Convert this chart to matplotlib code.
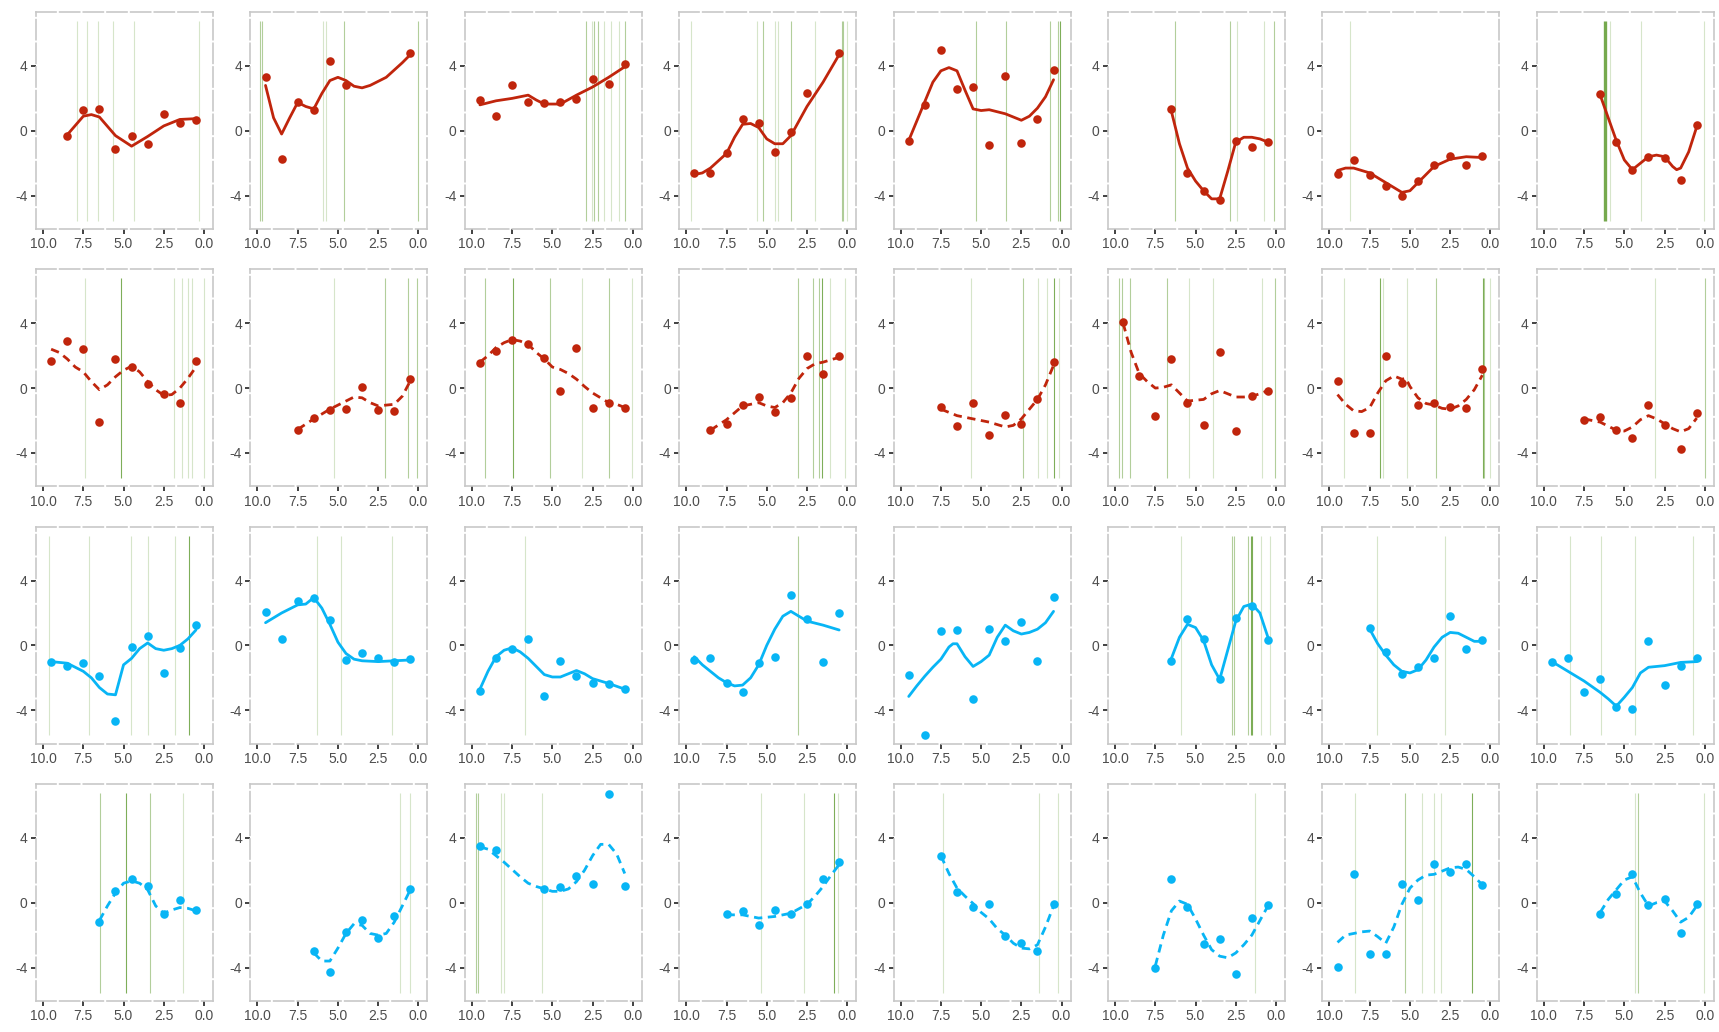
import matplotlib
matplotlib.use("Agg")
import matplotlib.pyplot as plt
from matplotlib.ticker import FormatStrFormatter

plt.rcParams['font.family'] = ['Liberation Sans', 'DejaVu Sans']
plt.rcParams['axes.unicode_minus'] = False

FULL = [9.5, 8.5, 7.5, 6.5, 5.5, 4.5, 3.5, 2.5, 1.5, 0.5]

# points per panel (row by row, 8 per row)
pts_x = [
    FULL[1:], [9.5, 8.5, 7.5, 6.5, 5.5, 4.5, 0.5], FULL, [9.5, 8.5, 7.5, 6.5, 5.5, 4.5, 3.5, 2.5, 0.5],
    FULL, FULL[3:], FULL, FULL[3:],
    FULL, FULL[2:], FULL, FULL[1:], FULL[2:], FULL, FULL, FULL[2:],
    FULL, FULL, FULL, FULL, FULL, FULL[3:], FULL[2:], FULL,
    FULL[3:], FULL[3:], [9.5, 8.5, 5.5, 4.5, 3.5, 2.5, 1.5, 0.5], FULL[2:], FULL[2:], FULL[2:], FULL, FULL[3:],
]
pts_y = [
    [-0.3, 1.3, 1.35, -1.1, -0.35, -0.8, 1.05, 0.5, 0.65],
    [3.3, -1.75, 1.75, 1.3, 4.3, 2.8, 4.8],
    [1.9, 0.9, 2.8, 1.8, 1.7, 1.75, 1.95, 3.2, 2.9, 4.1],
    [-2.6, -2.6, -1.35, 0.75, 0.5, -1.3, -0.1, 2.35, 4.8],
    [-0.6, 1.6, 5.0, 2.6, 2.7, -0.85, 3.4, -0.75, 0.7, 3.75],
    [1.35, -2.6, -3.7, -4.25, -0.65, -1.0, -0.7],
    [-2.65, -1.8, -2.75, -3.4, -4.0, -3.1, -2.1, -1.55, -2.1, -1.55],
    [2.3, -0.7, -2.4, -1.6, -1.65, -3.05, 0.35],
    [1.7, 2.9, 2.4, -2.1, 1.8, 1.3, 0.25, -0.35, -0.95, 1.7],
    [-2.6, -1.85, -1.35, -1.3, 0.05, -1.35, -1.4, 0.55],
    [1.55, 2.3, 2.95, 2.7, 1.85, -0.15, 2.45, -1.2, -0.9, -1.25],
    [-2.6, -2.2, -1.05, -0.55, -1.5, -0.6, 1.95, 0.9, 1.95],
    [-1.15, -2.35, -0.95, -2.9, -1.65, -2.2, -0.7, 1.6],
    [4.1, 0.75, -1.75, 1.8, -0.95, -2.25, 2.2, -2.65, -0.5, -0.15],
    [0.45, -2.75, -2.75, 1.95, 0.3, -1.05, -0.95, -1.15, -1.25, 1.15],
    [-1.95, -1.8, -2.6, -3.05, -1.05, -2.25, -3.75, -1.55],
    [-1.05, -1.25, -1.1, -1.9, -4.65, -0.1, 0.55, -1.7, -0.15, 1.25],
    [2.05, 0.4, 2.75, 2.9, 1.55, -0.9, -0.5, -0.8, -1.0, -0.85],
    [-2.8, -0.75, -0.2, 0.4, -3.15, -0.95, -1.9, -2.3, -2.4, -2.7],
    [-0.9, -0.75, -2.3, -2.85, -1.1, -0.7, 3.1, 1.65, -1.05, 2.0],
    [-1.8, -5.55, 0.9, 0.95, -3.3, 1.0, 0.25, 1.45, -0.95, 3.0],
    [-0.95, 1.65, 0.4, -2.1, 1.7, 2.45, 0.35],
    [1.05, -0.4, -1.75, -1.35, -0.75, 1.8, -0.2, 0.35],
    [-1.05, -0.8, -2.9, -2.05, -3.8, -3.95, 0.3, -2.45, -1.3, -0.75],
    [-1.2, 0.7, 1.45, 1.0, -0.7, 0.15, -0.45],
    [-3.0, -4.3, -1.8, -1.05, -2.2, -0.85, 0.85],
    [3.5, 3.25, 0.85, 0.95, 1.65, 1.15, 6.7, 1.05],
    [-0.7, -0.5, -1.35, -0.45, -0.7, -0.1, 1.45, 2.5],
    [2.9, 0.65, -0.25, -0.1, -2.05, -2.5, -3.0, -0.1],
    [-4.0, 1.45, -0.25, -2.55, -2.25, -4.4, -0.95, -0.15],
    [-3.95, 1.8, -3.15, -3.15, 1.15, 0.15, 2.4, 1.9, 2.4, 1.1],
    [-0.7, 0.55, 1.75, -0.15, 0.2, -1.9, -0.05],
]

# smoothed curve readings per panel
curve_x = [
    [8.5, 7.5, 7.0, 6.5, 5.5, 4.5, 3.5, 2.5, 1.5, 0.5],
    [9.5, 9.0, 8.5, 8.0, 7.5, 7.0, 6.5, 6.0, 5.5, 5.0, 4.5, 4.0, 3.5, 3.0, 2.0, 1.0, 0.5],
    [9.5, 8.5, 7.5, 6.5, 6.0, 5.5, 4.5, 3.5, 2.5, 1.5, 0.5],
    [9.5, 9.0, 8.5, 7.5, 7.0, 6.5, 6.0, 5.5, 5.0, 4.5, 4.0, 3.5, 3.0, 2.5, 1.5, 0.5],
    [9.5, 9.0, 8.5, 8.0, 7.5, 7.0, 6.5, 6.0, 5.5, 5.0, 4.5, 3.5, 3.0, 2.5, 2.0, 1.5, 1.0, 0.5],
    [6.5, 6.0, 5.5, 5.0, 4.5, 4.0, 3.5, 3.0, 2.5, 2.0, 1.5, 1.0, 0.5],
    [9.5, 9.0, 8.5, 7.5, 6.5, 5.5, 5.0, 4.5, 3.5, 2.5, 1.5, 0.5],
    [6.5, 6.0, 5.5, 5.0, 4.5, 4.0, 3.5, 3.0, 2.5, 2.0, 1.75, 1.5, 1.0, 0.5],
    [9.5, 9.0, 8.5, 8.0, 7.5, 7.0, 6.5, 6.0, 5.5, 5.0, 4.5, 4.0, 3.5, 3.0, 2.5, 2.0, 1.5, 1.0, 0.5],
    [7.5, 6.5, 5.5, 4.5, 4.0, 3.5, 3.0, 2.5, 2.0, 1.5, 1.0, 0.5],
    [9.5, 9.0, 8.5, 8.0, 7.5, 7.0, 6.5, 6.0, 5.5, 5.0, 4.5, 4.0, 3.5, 3.0, 2.5, 2.0, 1.5, 1.0, 0.5],
    [8.5, 7.5, 6.5, 5.5, 5.0, 4.5, 4.0, 3.5, 3.0, 2.5, 2.0, 1.5, 1.0, 0.5],
    [7.5, 6.5, 5.5, 4.5, 3.5, 3.0, 2.5, 2.0, 1.5, 1.0, 0.5],
    [9.5, 9.0, 8.5, 8.0, 7.5, 7.0, 6.5, 6.0, 5.5, 5.0, 4.5, 4.0, 3.5, 3.0, 2.5, 2.0, 1.5, 1.0, 0.5],
    [9.5, 9.0, 8.5, 8.0, 7.5, 7.0, 6.5, 6.0, 5.5, 5.25, 5.0, 4.5, 4.0, 3.5, 3.0, 2.5, 2.0, 1.5, 1.0, 0.5],
    [7.5, 7.0, 6.5, 5.5, 5.0, 4.5, 4.0, 3.5, 3.0, 2.5, 2.0, 1.5, 1.0, 0.5],
    [9.5, 8.5, 7.5, 7.0, 6.5, 6.0, 5.5, 5.0, 4.5, 4.0, 3.5, 3.0, 2.5, 2.0, 1.5, 1.0, 0.5],
    [9.5, 8.5, 7.5, 7.0, 6.5, 6.0, 5.5, 5.0, 4.5, 4.0, 3.5, 2.5, 1.5, 0.5],
    [9.5, 9.0, 8.5, 8.0, 7.5, 7.0, 6.5, 6.0, 5.5, 5.0, 4.5, 4.0, 3.5, 3.0, 2.5, 1.5, 0.5],
    [9.5, 9.0, 8.5, 8.0, 7.5, 7.0, 6.5, 6.0, 5.5, 5.0, 4.5, 4.0, 3.5, 3.0, 2.5, 1.5, 0.5],
    [9.5, 9.0, 8.5, 8.0, 7.5, 7.0, 6.75, 6.5, 6.0, 5.5, 5.0, 4.5, 4.0, 3.5, 3.0, 2.5, 2.0, 1.5, 1.0, 0.5],
    [6.5, 6.0, 5.5, 5.0, 4.5, 4.0, 3.5, 3.0, 2.5, 2.0, 1.5, 1.0, 0.5],
    [7.5, 7.0, 6.5, 6.0, 5.5, 5.0, 4.5, 4.0, 3.5, 3.0, 2.5, 2.0, 1.5, 1.0, 0.5],
    [9.5, 8.5, 7.5, 6.5, 6.0, 5.5, 5.0, 4.5, 4.0, 3.5, 3.0, 2.5, 1.5, 0.5],
    [6.5, 6.0, 5.5, 5.0, 4.5, 4.0, 3.5, 3.0, 2.5, 2.0, 1.5, 1.0, 0.5],
    [6.5, 6.0, 5.5, 5.0, 4.5, 4.0, 3.5, 3.0, 2.5, 2.0, 1.5, 1.0, 0.5],
    [9.5, 9.0, 8.5, 8.0, 7.5, 7.0, 6.5, 6.0, 5.5, 5.0, 4.5, 4.0, 3.5, 3.0, 2.5, 2.0, 1.5, 1.0, 0.5],
    [7.5, 6.5, 5.5, 4.5, 3.5, 2.5, 2.0, 1.5, 1.0, 0.5],
    [7.5, 7.0, 6.5, 6.0, 5.5, 5.0, 4.5, 4.0, 3.5, 3.0, 2.5, 2.0, 1.5, 1.0, 0.5],
    [7.5, 7.0, 6.5, 6.0, 5.5, 5.0, 4.5, 4.0, 3.5, 3.0, 2.5, 2.0, 1.5, 1.0, 0.5],
    [9.5, 9.0, 8.5, 8.0, 7.5, 7.0, 6.5, 6.0, 5.5, 5.0, 4.5, 4.0, 3.5, 3.0, 2.5, 2.0, 1.5, 1.0, 0.5],
    [6.5, 6.0, 5.5, 5.0, 4.5, 4.0, 3.5, 3.0, 2.5, 2.0, 1.5, 1.0, 0.5],
]
curve_y = [
    [-0.25, 0.9, 1.0, 0.85, -0.3, -0.95, -0.35, 0.3, 0.7, 0.75],
    [2.8, 0.8, -0.2, 0.8, 1.75, 1.5, 1.35, 2.3, 3.1, 3.3, 3.1, 2.75, 2.65, 2.8, 3.3, 4.2, 4.7],
    [1.6, 1.85, 2.0, 2.2, 1.9, 1.65, 1.65, 2.2, 2.7, 3.3, 3.95],
    [-2.7, -2.6, -2.3, -1.4, -0.4, 0.4, 0.45, 0.2, -0.5, -0.8, -0.8, -0.3, 0.6, 1.5, 3.0, 4.7],
    [-0.6, 0.6, 1.8, 3.0, 3.7, 3.9, 3.7, 2.5, 1.35, 1.25, 1.3, 1.05, 0.85, 0.65, 0.9, 1.4, 2.1, 3.15],
    [1.2, -0.8, -2.3, -3.1, -3.7, -4.2, -4.2, -2.5, -0.7, -0.4, -0.4, -0.5, -0.7],
    [-2.45, -2.3, -2.3, -2.6, -3.2, -3.8, -3.7, -3.2, -2.2, -1.75, -1.6, -1.65],
    [2.2, 0.8, -0.6, -1.8, -2.4, -2.0, -1.6, -1.5, -1.6, -2.2, -2.4, -2.3, -1.3, 0.25],
    [2.4, 2.2, 1.8, 1.3, 1.0, 0.4, -0.1, 0.2, 0.7, 1.1, 1.35, 1.0, 0.4, -0.1, -0.45, -0.4, 0.0, 0.6, 1.3],
    [-2.55, -1.9, -1.3, -0.8, -0.55, -0.6, -0.9, -1.1, -1.05, -1.0, -0.5, 0.45],
    [1.6, 2.0, 2.5, 2.8, 3.0, 2.9, 2.7, 2.2, 1.8, 1.3, 1.15, 0.9, 0.55, 0.1, -0.3, -0.6, -0.9, -1.0, -1.2],
    [-2.6, -1.95, -1.1, -0.9, -1.1, -1.2, -0.9, -0.3, 0.6, 1.2, 1.5, 1.6, 1.75, 1.9],
    [-1.3, -1.7, -1.9, -2.1, -2.4, -2.3, -1.9, -1.3, -0.7, 0.2, 1.4],
    [4.0, 2.2, 0.9, 0.4, 0.0, 0.05, 0.2, -0.3, -0.8, -0.75, -0.7, -0.35, -0.15, -0.35, -0.55, -0.55, -0.5, -0.35, -0.15],
    [-0.4, -1.0, -1.4, -1.45, -1.2, -0.3, 0.45, 0.75, 0.55, 0.6, 0.1, -0.6, -0.95, -1.05, -1.25, -1.3, -1.1, -0.7, -0.1, 0.8],
    [-1.9, -2.0, -2.1, -2.6, -2.65, -2.4, -1.95, -1.7, -1.9, -2.2, -2.5, -2.7, -2.5, -1.85],
    [-1.0, -1.1, -1.6, -2.0, -2.6, -3.0, -3.05, -1.2, -0.8, -0.2, 0.15, -0.2, -0.3, -0.2, 0.0, 0.4, 0.95],
    [1.4, 2.0, 2.5, 2.55, 2.95, 2.3, 1.3, 0.2, -0.5, -0.85, -0.95, -1.0, -0.95, -0.9],
    [-2.7, -1.6, -0.7, -0.3, -0.15, -0.4, -0.8, -1.3, -1.8, -1.95, -1.95, -1.75, -1.55, -1.75, -2.05, -2.35, -2.7],
    [-0.7, -1.2, -1.6, -2.0, -2.3, -2.5, -2.45, -2.0, -1.2, 0.0, 1.0, 1.8, 2.1, 1.8, 1.5, 1.25, 0.95],
    [-3.15, -2.5, -1.9, -1.35, -0.85, -0.1, 0.1, 0.1, -0.7, -1.3, -1.0, -0.6, 0.5, 1.25, 0.9, 0.7, 0.8, 1.0, 1.4, 2.1],
    [-0.8, 0.5, 1.3, 1.1, 0.3, -1.2, -2.1, -0.3, 1.5, 2.4, 2.55, 2.0, 0.5],
    [1.0, 0.1, -0.6, -1.2, -1.6, -1.7, -1.5, -0.9, -0.1, 0.5, 0.8, 0.75, 0.5, 0.25, 0.25],
    [-1.0, -1.6, -2.2, -2.9, -3.3, -3.75, -3.2, -2.6, -1.7, -1.35, -1.3, -1.25, -1.05, -1.0],
    [-1.1, -0.2, 0.6, 1.2, 1.35, 1.2, 0.8, -0.2, -0.65, -0.45, -0.3, -0.35, -0.5],
    [-3.1, -3.6, -3.6, -2.8, -1.9, -1.3, -1.4, -1.9, -2.0, -1.9, -1.2, -0.2, 0.8],
    [3.45, 3.3, 2.9, 2.5, 2.05, 1.6, 1.2, 1.0, 0.85, 0.7, 0.7, 0.85, 1.3, 2.0, 2.9, 3.6, 3.6, 3.0, 1.8],
    [-0.75, -0.75, -0.95, -0.85, -0.65, -0.1, 0.4, 1.0, 1.7, 2.35],
    [2.9, 1.8, 0.9, 0.4, -0.05, -0.6, -1.0, -1.6, -2.0, -2.5, -2.8, -2.85, -2.6, -1.5, -0.2],
    [-3.9, -2.0, -0.5, 0.1, -0.1, -1.0, -2.0, -2.9, -3.3, -3.4, -3.1, -2.6, -2.0, -1.1, -0.2],
    [-2.45, -2.0, -1.9, -1.8, -1.75, -2.1, -2.5, -1.5, -0.1, 0.9, 1.4, 1.7, 1.75, 1.95, 2.15, 2.2, 2.05, 1.6, 1.1],
    [-0.6, 0.2, 0.8, 1.4, 1.6, 0.6, -0.2, 0.0, 0.1, -0.5, -1.2, -0.9, -0.2],
]

# vertical reference lines: position and intensity level (1 light, 2 mid, 3 dark, 4 thick)
vline_x = [
    [7.91, 7.29, 6.61, 5.64, 4.38, 0.33],
    [9.85, 9.7, 5.93, 5.76, 4.61, 0.04],
    [2.89, 2.56, 2.44, 2.19, 1.82, 1.38, 0.87, 0.5],
    [9.71, 5.6, 5.25, 4.46, 4.3, 3.51, 2.02, 0.33, 0.23, 0.04],
    [5.34, 3.44, 0.72, 0.21, 0.08],
    [6.28, 2.87, 2.4, 0.72, 0.12],
    [8.74],
    [6.2, 5.87, 3.97, 0.02],
    [7.37, 5.14, 1.85, 1.38, 0.97, 0.74, 0.0],
    [5.23, 2.08, 0.66, 0.06],
    [9.19, 7.42, 5.12, 3.15, 1.49, 0.03],
    [3.06, 2.11, 1.73, 1.56, 1.05, 0.14],
    [5.63, 2.42, 1.47, 0.92, 0.48, 0.17],
    [9.76, 9.56, 9.08, 6.78, 5.39, 3.9, 0.85, 0.07],
    [9.09, 6.83, 6.67, 5.16, 3.35, 0.49, 0.41, 0.02],
    [3.1, 0.0],
    [9.63, 7.14, 4.52, 3.47, 1.8, 0.95],
    [6.3, 4.78, 1.63],
    [6.7],
    [3.03],
    [],
    [5.9, 2.75, 2.61, 1.76, 1.56, 1.46, 0.95, 0.37],
    [7.06, 2.8],
    [8.39, 6.47, 4.32, 0.72],
    [6.46, 4.83, 3.37, 1.33],
    [1.12, 0.54],
    [9.75, 9.65, 8.16, 8.03, 5.65],
    [5.36, 2.66, 0.82, 0.55],
    [7.4, 1.42, 0.23],
    [1.28],
    [8.42, 5.29, 4.22, 3.52, 3.09, 1.17],
    [4.35, 4.14, 0.04],
]
vline_lvl = [
    [1, 1, 1, 1, 1, 1],
    [2, 2, 1, 1, 2, 2],
    [2, 1, 2, 2, 1, 1, 1, 2],
    [1, 1, 2, 1, 1, 2, 1, 2, 2, 1],
    [2, 2, 2, 2, 3],
    [2, 2, 1, 1, 2],
    [1],
    [4, 1, 1, 1],
    [1, 3, 1, 1, 1, 1, 1],
    [1, 2, 2, 2],
    [2, 3, 2, 1, 2, 1],
    [2, 2, 2, 3, 1, 1],
    [1, 2, 1, 1, 3, 1],
    [2, 2, 2, 2, 1, 1, 1, 2],
    [1, 3, 1, 1, 2, 3, 2, 1],
    [1, 2],
    [1, 1, 1, 1, 1, 3],
    [1, 1, 1],
    [1],
    [2],
    [],
    [1, 2, 2, 2, 3, 3, 1, 1],
    [1, 1],
    [1, 1, 1, 1],
    [2, 3, 2, 1],
    [1, 1],
    [2, 2, 1, 1, 1],
    [1, 1, 3, 1],
    [1, 1, 1],
    [1],
    [1, 2, 1, 1, 1, 3],
    [1, 2, 1],
]

row_color = ['#c0250c', '#c0250c', '#08b5f5', '#08b5f5']
row_dash = ['-', '--', '-', '--']
lvl_alpha = {1: 0.25, 2: 0.48, 3: 0.8, 4: 0.85}
lvl_width = {1: 0.8, 2: 0.8, 3: 0.8, 4: 2.4}

W, H = 1719, 1032
fig = plt.figure(figsize=(W / 100, H / 100), dpi=100)

for k in range(32):
    r, c = divmod(k, 8)
    left = 36 + 214.4 * c
    top = 12 + 257.3 * r
    ax = fig.add_axes([left / W, 1 - (top + 217) / H, 177 / W, 217 / H])

    for vx, lv in zip(vline_x[k], vline_lvl[k]):
        ax.plot([vx, vx], [-5.56, 6.78], color='#5e9a2f', alpha=lvl_alpha[lv],
                lw=lvl_width[lv], zorder=1, solid_capstyle='butt')

    ax.scatter(pts_x[k], pts_y[k], s=38, color=row_color[r], zorder=3, linewidths=0)
    if row_dash[r] == '--':
        ax.plot(curve_x[k], curve_y[k], color=row_color[r], lw=2.0, zorder=4,
                dashes=(3.0, 2.0), solid_joinstyle='round')
    else:
        ax.plot(curve_x[k], curve_y[k], color=row_color[r], lw=2.0, zorder=4,
                solid_joinstyle='round', solid_capstyle='round')

    ax.set_xlim(10.44, -0.56)
    ax.set_ylim(-6.06, 7.33)
    ax.set_xticks([10, 7.5, 5, 2.5, 0])
    ax.set_yticks([-4, 0, 4])
    ax.xaxis.set_major_formatter(FormatStrFormatter('%.1f'))
    ax.tick_params(length=3.5, width=1.3, color='#333333', labelcolor='#4d4d4d',
                   labelsize=10, pad=2.5)
    for sp in ax.spines.values():
        sp.set_color('#c8c8c8')
        sp.set_linewidth(1.2)
        sp.set_linestyle((0, (12, 2.2)))

fig.savefig('out.png', dpi=100)
